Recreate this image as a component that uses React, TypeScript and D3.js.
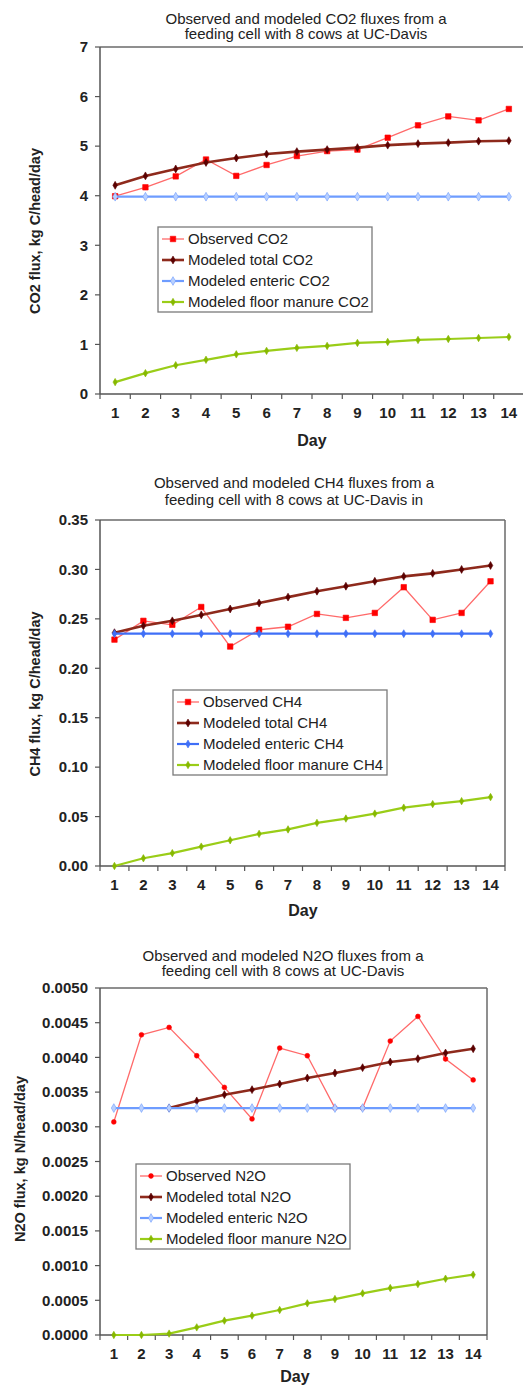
import React from "react";
import * as d3 from "d3";

// Days on the x axis (same for all three panels).
const days = [1, 2, 3, 4, 5, 6, 7, 8, 9, 10, 11, 12, 13, 14];

// CO2 panel, kg C/head/day
const co2Observed = [3.99, 4.17, 4.39, 4.73, 4.4, 4.62, 4.8, 4.9, 4.93, 5.17, 5.42, 5.6, 5.52, 5.75];
const co2Total = [4.21, 4.4, 4.54, 4.67, 4.76, 4.84, 4.89, 4.93, 4.97, 5.02, 5.05, 5.07, 5.1, 5.11];
const co2Enteric = [3.98, 3.98, 3.98, 3.98, 3.98, 3.98, 3.98, 3.98, 3.98, 3.98, 3.98, 3.98, 3.98, 3.98];
const co2Floor = [0.24, 0.42, 0.58, 0.69, 0.8, 0.87, 0.93, 0.97, 1.03, 1.05, 1.09, 1.11, 1.13, 1.15];
const co2TickLabels = ["0", "1", "2", "3", "4", "5", "6", "7"];

// CH4 panel, kg C/head/day
const ch4Observed = [0.229, 0.248, 0.244, 0.262, 0.222, 0.239, 0.242, 0.255, 0.251, 0.256, 0.282, 0.249, 0.256, 0.288];
const ch4Total = [0.236, 0.243, 0.248, 0.254, 0.26, 0.266, 0.272, 0.278, 0.283, 0.288, 0.293, 0.296, 0.3, 0.304];
const ch4Enteric = [0.235, 0.235, 0.235, 0.235, 0.235, 0.235, 0.235, 0.235, 0.235, 0.235, 0.235, 0.235, 0.235, 0.235];
const ch4Floor = [0.0, 0.0078, 0.013, 0.0196, 0.026, 0.0325, 0.037, 0.0436, 0.048, 0.053, 0.059, 0.0626, 0.0656, 0.0697];
const ch4TickLabels = ["0.00", "0.05", "0.10", "0.15", "0.20", "0.25", "0.30", "0.35"];

// N2O panel, kg N/head/day
const n2oObserved = [0.00307, 0.004326, 0.004432, 0.004024, 0.003568, 0.003113, 0.004135, 0.004024, 0.00327, 0.00327, 0.004236, 0.00459, 0.003977, 0.003675];
const n2oTotal = [null, null, 0.00327, 0.003373, 0.003463, 0.003535, 0.003617, 0.003703, 0.003775, 0.003852, 0.003934, 0.003981, 0.004063, 0.004125];
const n2oEnteric = [0.00327, 0.00327, 0.00327, 0.00327, 0.00327, 0.00327, 0.00327, 0.00327, 0.00327, 0.00327, 0.00327, 0.00327, 0.00327, 0.00327];
const n2oFloor = [0.0, 0.0, 0.00002, 0.00011, 0.000207, 0.000279, 0.00036, 0.000456, 0.000518, 0.0006, 0.000676, 0.000734, 0.000811, 0.000869];
const n2oTickLabels = ["0.0000", "0.0005", "0.0010", "0.0015", "0.0020", "0.0025", "0.0030", "0.0035", "0.0040", "0.0045", "0.0050"];

const FONT = "'Liberation Sans', Arial, sans-serif";

type Style = {
  line: string;
  width: number;
  fill: string;
  stroke: string;
  symbol: d3.SymbolType;
  size: number;
};

const observedSquare: Style = { line: "#ff6a6a", width: 1.3, fill: "#ff0000", stroke: "#ff0000", symbol: d3.symbolSquare, size: 30 };
const observedDot: Style = { line: "#ff6a6a", width: 1.3, fill: "#ff0000", stroke: "#ff0000", symbol: d3.symbolCircle, size: 18 };
const totalStyle: Style = { line: "#8e2a1c", width: 2.6, fill: "#5a0000", stroke: "#5a0000", symbol: d3.symbolDiamond, size: 18 };
const entericStyle: Style = { line: "#6e9cff", width: 2.2, fill: "#b8d0ff", stroke: "#6e9cff", symbol: d3.symbolDiamond, size: 22 };
const entericBlue: Style = { line: "#3f6ff7", width: 2.2, fill: "#3f6ff7", stroke: "#3f6ff7", symbol: d3.symbolDiamond, size: 18 };
const floorStyle: Style = { line: "#9acd18", width: 2.2, fill: "#86b800", stroke: "#86b800", symbol: d3.symbolDiamond, size: 16 };

type Series = { name: string; values: (number | null)[]; style: Style };

type PanelProps = {
  title: string[];
  titleX: number;
  titleY: number;
  titleGap: number;
  yLabel: string;
  yLabelX: number;
  yLabelY: number;
  dayX: number;
  dayY: number;
  ticks: string[];
  left: number;
  right: number;
  top: number;
  bottom: number;
  legendX: number;
  legendY: number;
  series: Series[];
  box: boolean;
};

const Panel = (p: PanelProps) => {
  const yMax = +p.ticks[p.ticks.length - 1];
  const x = d3.scaleLinear().domain([0.5, days.length + 0.5]).range([p.left, p.right]);
  const y = d3.scaleLinear().domain([0, yMax]).range([p.bottom, p.top]);
  const line = d3
    .line<number | null>()
    .defined((d) => d !== null)
    .x((_, i) => x(days[i]))
    .y((d) => y(d as number));
  const bounds = d3.range(0.5, days.length + 1, 1);

  return (
    <g>
      {p.title.map((t, i) => (
        <text key={i} x={p.titleX} y={p.titleY + i * p.titleGap} textAnchor="middle" fontSize={15} fill="#222">
          {t}
        </text>
      ))}

      {/* frame */}
      <line x1={p.left} x2={p.right} y1={p.top} y2={p.top} stroke="#6a6a6a" strokeWidth={1.5} />
      {p.box && <line x1={p.right} x2={p.right} y1={p.top} y2={p.bottom} stroke="#6a6a6a" strokeWidth={1.5} />}

      {/* y axis */}
      <line x1={p.left} x2={p.left} y1={p.top} y2={p.bottom} stroke="#555" strokeWidth={1.5} />
      {p.ticks.map((t) => (
        <g key={t} transform={`translate(0,${y(+t)})`}>
          <line x1={p.left - 5} x2={p.left} stroke="#555" strokeWidth={1.2} />
          <text x={p.left - 12} dy="0.35em" textAnchor="end" fontSize={15} fontWeight="bold" fill="#222">
            {t}
          </text>
        </g>
      ))}
      <text
        transform={`translate(${p.yLabelX},${p.yLabelY}) rotate(-90)`}
        textAnchor="middle"
        fontSize={14.5}
        fontWeight="bold"
        fill="#222"
      >
        {p.yLabel}
      </text>

      {/* x axis */}
      <line x1={p.left} x2={p.right} y1={p.bottom} y2={p.bottom} stroke="#555" strokeWidth={1.5} />
      {bounds.map((b) => (
        <line key={b} x1={x(b)} x2={x(b)} y1={p.bottom} y2={p.bottom + 5} stroke="#555" strokeWidth={1.2} />
      ))}
      {days.map((d) => (
        <text key={d} x={x(d)} y={p.bottom + 24} textAnchor="middle" fontSize={15} fontWeight="bold" fill="#222">
          {d}
        </text>
      ))}
      <text x={p.dayX} y={p.dayY} textAnchor="middle" fontSize={16} fontWeight="bold" fill="#222">
        Day
      </text>

      {/* series */}
      {p.series.map((s) => (
        <g key={s.name}>
          <path d={line(s.values) || ""} fill="none" stroke={s.style.line} strokeWidth={s.style.width} />
          {s.values.map((v, i) =>
            v === null ? null : (
              <path
                key={i}
                transform={`translate(${x(days[i])},${y(v)})`}
                d={d3.symbol().type(s.style.symbol).size(s.style.size)() || ""}
                fill={s.style.fill}
                stroke={s.style.stroke}
                strokeWidth={0.6}
              />
            )
          )}
        </g>
      ))}

      {/* legend */}
      <g transform={`translate(${p.legendX},${p.legendY})`}>
        <rect width={214} height={85} fill="#fff" stroke="#7a7a7a" strokeWidth={1.3} />
        {p.series.map((s, i) => {
          const ry = 12 + i * 21;
          return (
            <g key={s.name} transform={`translate(0,${ry})`}>
              <line x1={4} x2={26} stroke={s.style.line} strokeWidth={s.style.width} />
              <path
                transform="translate(15,0)"
                d={d3.symbol().type(s.style.symbol).size(s.style.size)() || ""}
                fill={s.style.fill}
                stroke={s.style.stroke}
                strokeWidth={0.6}
              />
              <text x={30} dy="0.35em" fontSize={15} fill="#222">
                {s.name}
              </text>
            </g>
          );
        })}
      </g>
    </g>
  );
};

export default function App() {
  return (
    <svg
      width={523}
      height={1386}
      style={{ position: "absolute", left: 0, top: 0, background: "#fff" }}
      fontFamily={FONT}
    >
      <Panel
        title={["Observed and modeled CO2 fluxes from a", "feeding cell with 8 cows at UC-Davis"]}
        titleX={306}
        titleY={24}
        titleGap={15}
        yLabel="CO2 flux, kg C/head/day"
        yLabelX={40}
        yLabelY={231}
        dayX={312}
        dayY={446}
        ticks={co2TickLabels}
        left={100}
        right={524}
        top={47}
        bottom={394}
        legendX={158}
        legendY={227}
        box={false}
        series={[
          { name: "Observed CO2", values: co2Observed, style: observedSquare },
          { name: "Modeled total CO2", values: co2Total, style: totalStyle },
          { name: "Modeled enteric CO2", values: co2Enteric, style: entericStyle },
          { name: "Modeled floor manure CO2", values: co2Floor, style: floorStyle },
        ]}
      />
      <Panel
        title={["Observed and modeled CH4 fluxes from a", "feeding cell with 8 cows at UC-Davis in"]}
        titleX={294}
        titleY={488}
        titleGap={17}
        yLabel="CH4 flux, kg C/head/day"
        yLabelX={40}
        yLabelY={694}
        dayX={303}
        dayY={916}
        ticks={ch4TickLabels}
        left={100}
        right={505}
        top={520}
        bottom={866}
        legendX={173}
        legendY={690}
        box={true}
        series={[
          { name: "Observed CH4", values: ch4Observed, style: observedSquare },
          { name: "Modeled total CH4", values: ch4Total, style: totalStyle },
          { name: "Modeled enteric CH4", values: ch4Enteric, style: entericBlue },
          { name: "Modeled floor manure CH4", values: ch4Floor, style: floorStyle },
        ]}
      />
      <Panel
        title={["Observed and modeled N2O fluxes from a", "feeding cell with 8 cows at UC-Davis"]}
        titleX={283}
        titleY={961}
        titleGap={15}
        yLabel="N2O flux, kg N/head/day"
        yLabelX={25}
        yLabelY={1159}
        dayX={295}
        dayY={1382}
        ticks={n2oTickLabels}
        left={100}
        right={487}
        top={988}
        bottom={1335}
        legendX={136}
        legendY={1164}
        box={true}
        series={[
          { name: "Observed N2O", values: n2oObserved, style: observedDot },
          { name: "Modeled total N2O", values: n2oTotal, style: totalStyle },
          { name: "Modeled enteric N2O", values: n2oEnteric, style: entericStyle },
          { name: "Modeled floor manure N2O", values: n2oFloor, style: floorStyle },
        ]}
      />
    </svg>
  );
}
